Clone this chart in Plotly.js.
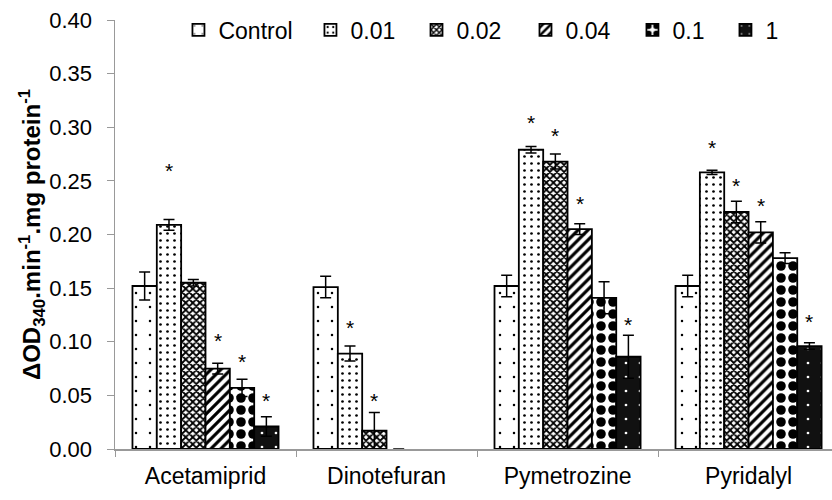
<!DOCTYPE html>
<html><head><meta charset="utf-8">
<script src="https://cdn.plot.ly/plotly-3.0.1.min.js"></script>
<style>html,body{margin:0;padding:0;background:#fff}</style>
</head><body><div id="chart" style="width:832px;height:500px"></div>
<script>
const categories = ['Acetamiprid','Dinotefuran','Pymetrozine','Pyridalyl'];
const seriesNames = ['Control','0.01','0.02','0.04','0.1','1'];
const valControl = [0.152,0.151,0.152,0.152];
const val001 = [0.209,0.089,0.279,0.258];
const val002 = [0.155,0.017,0.268,0.221];
const val004 = [0.075,0.000,0.205,0.202];
const val01 = [0.057,null,0.141,0.178];
const val1 = [0.021,null,0.086,0.096];
const errControl = [0.013,0.010,0.010,0.010];
const err001 = [0.005,0.007,0.003,0.002];
const err002 = [0.003,0.017,0.007,0.010];
const err004 = [0.005,0,0.005,0.010];
const err01 = [0.008,null,0.015,0.005];
const err1 = [0.009,null,0.020,0.003];
const starControl = [null,null,null,null];
const star001 = [0.263,0.117,0.308,0.285];
const star002 = [null,0.049,0.296,0.249];
const star004 = [0.105,null,0.233,0.231];
const star01 = [0.085,null,null,null];
const star1 = [0.049,null,0.120,0.123];
const tickVals = [0,0.05,0.10,0.15,0.20,0.25,0.30,0.35,0.40];

const values = [valControl,val001,val002,val004,val01,val1];
const errors = [errControl,err001,err002,err004,err01,err1];
const stars = [starControl,star001,star002,star004,star01,star1];

const patterns = [
  {shape:'.', bgcolor:'#ffffff', fgcolor:'#000000', size:14, solidity:0.025},
  {shape:'.', bgcolor:'#ffffff', fgcolor:'#000000', size:7, solidity:0.12},
  {shape:'x', bgcolor:'#ffffff', fgcolor:'#000000', size:5, solidity:0.6},
  {shape:'/', bgcolor:'#ffffff', fgcolor:'#000000', size:7, solidity:0.45},
  {shape:'.', bgcolor:'#ffffff', fgcolor:'#000000', size:12, solidity:0.5},
  {shape:'.', bgcolor:'#111111', fgcolor:'#ffffff', size:14, solidity:0.03}
];
const legendX = [0.0885,0.2726,0.4205,0.5725,0.7217,0.8514];
const legendIds = ['legend','legend2','legend3','legend4','legend5','legend6'];

const traces = seriesNames.map((name,i)=>({
  type:'bar', name:name, x:categories, y:values[i], legend:legendIds[i],
  marker:{color:'#ffffff', line:{color:'#000000', width:values[i].map(v=>v===0?0:1.8)}, pattern:patterns[i]},
  error_y:{type:'data', array:errors[i], visible:true, color:'#000000', thickness:1.5, width:5.5}
}));

const catPx = 181;
const barPx = catPx*(1-0.193)/6;
const annotations = [];
stars.forEach((arr,i)=>{
  arr.forEach((v,j)=>{
    if(v!==null){
      annotations.push({x:categories[j], y:v, xref:'x', yref:'y', text:'*', showarrow:false,
        xshift:(i-2.5)*barPx, yshift:-4, font:{size:21, color:'#000'}});
    }
  });
});

const layout = {
  width:832, height:500,
  margin:{l:115, r:0, t:20, b:51},
  paper_bgcolor:'#fff', plot_bgcolor:'#fff',
  font:{family:'Arial, Liberation Sans, sans-serif', size:22, color:'#000'},
  barmode:'group', bargap:0.193, bargroupgap:0,
  showlegend:true,
  xaxis:{range:[-0.5,3.461], showline:true, linecolor:'#999', linewidth:1.5, ticks:'outside', tickson:'boundaries',
    ticklen:6, tickcolor:'#999', showgrid:false, zeroline:false, tickfont:{size:23}, ticklabelstandoff:6},
  yaxis:{range:[0,0.40], tickvals:tickVals, tickformat:'.2f', showline:true, linecolor:'#999', linewidth:1.5,
    ticks:'outside', ticklen:7, tickcolor:'#999', showgrid:false, zeroline:false, tickfont:{size:22}, ticklabelstandoff:10,
    title:{text:'ΔOD<sub>340</sub>.min<sup>-1</sup>.mg protein<sup>-1</sup>', font:{size:24, weight:'bold'}, standoff:0}},
  annotations:annotations
};
legendIds.forEach((id,i)=>{
  layout[id] = {orientation:'h', x:legendX[i], xanchor:'left', y:0.977, yanchor:'middle',
    font:{size:23}, bgcolor:'rgba(0,0,0,0)'};
});
Plotly.newPlot('chart', traces, layout, {displayModeBar:false, staticPlot:true});
</script></body></html>
